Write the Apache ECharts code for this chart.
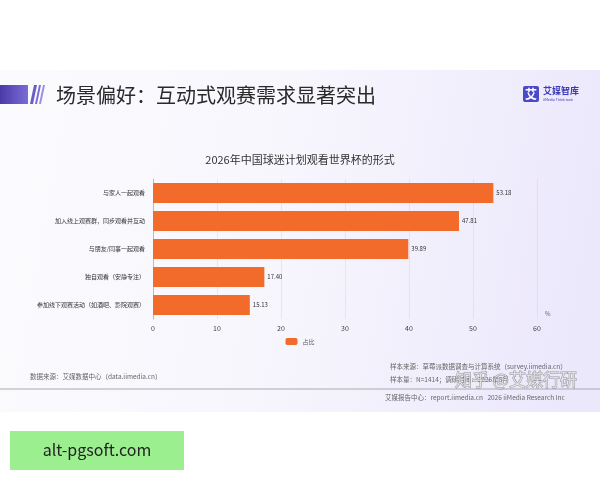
<!DOCTYPE html>
<html>
<head>
<meta charset="utf-8">
<script src="https://cdn.jsdelivr.net/npm/echarts@6/dist/echarts.min.js"></script>
<style>
html,body{margin:0;padding:0;background:#fff;}
#c{width:600px;height:480px;}
</style>
</head>
<body>
<div id="c"></div>
<script>
var categories = ['与家人一起观看', '加入线上观赛群，同步观看并互动', '与朋友/同事一起观看', '独自观看（安静专注）', '参加线下观赛活动（如酒吧、影院观赛）'];
var values = [53.18, 47.81, 39.89, 17.40, 15.13];
var xTicks = [0, 10, 20, 30, 40, 50, 60];
var seriesName = '占比';
var pageTitle = '场景偏好：互动式观赛需求显著突出';
var chartTitle = '2026年中国球迷计划观看世界杯的形式';

var FONT = '"Noto Sans CJK SC","Noto Sans",sans-serif';
var chart = echarts.init(document.getElementById('c'), null, {renderer: 'canvas'});

var option = {
  backgroundColor: '#ffffff',
  animation: false,
  textStyle: {fontFamily: FONT},
  title: {
    text: chartTitle,
    left: 'center',
    top: 149,
    textStyle: {fontSize: 11, fontWeight: 'normal', color: '#333', fontFamily: FONT}
  },
  legend: {
    data: [seriesName],
    top: 333,
    left: 'center',
    itemWidth: 12,
    itemHeight: 7,
    icon: 'roundRect',
    textStyle: {fontSize: 6, color: '#555', fontFamily: FONT}
  },
  grid: {left: 153, right: 63, top: 179, height: 140, containLabel: false},
  xAxis: {
    type: 'value',
    min: 0, max: 60, interval: 10,
    name: '%',
    nameLocation: 'end',
    nameGap: 8,
    nameTextStyle: {fontSize: 6, color: '#666', verticalAlign: 'bottom', padding: [0, 0, 2, 0]},
    axisLine: {show: false},
    axisTick: {show: false},
    axisLabel: {fontSize: 7, color: '#444', margin: 6,
      formatter: function (v) { return xTicks.indexOf(v) >= 0 ? String(v) : ''; }},
    splitLine: {show: true, lineStyle: {color: 'rgba(200,200,215,0.35)', width: 1}}
  },
  yAxis: {
    type: 'category',
    data: categories,
    inverse: true,
    axisLine: {show: true, lineStyle: {color: '#bbb', width: 1}},
    axisTick: {show: false},
    axisLabel: {fontSize: 6, color: '#333', margin: 8}
  },
  series: [{
    name: seriesName,
    type: 'bar',
    data: values,
    barCategoryGap: '28%',
    itemStyle: {color: '#F26B2B'},
    label: {show: true, position: 'right', distance: 3, fontSize: 6, color: '#333',
      formatter: function (p) { return p.value.toFixed(2); }}
  }],
  graphic: [
    // slide background
    {type: 'rect', z: -10, silent: true,
      shape: {x: 0, y: 70, width: 600, height: 342},
      style: {fill: new echarts.graphic.LinearGradient(0, 0, 1, 0.3, [
        {offset: 0, color: '#fbfbfe'}, {offset: 0.5, color: '#f7f6fd'}, {offset: 1, color: '#ece8fc'}])}},
    // header purple bar
    {type: 'rect', z: 5, shape: {x: 0, y: 85, width: 28, height: 19},
      style: {fill: new echarts.graphic.LinearGradient(0, 0, 1, 0, [
        {offset: 0, color: '#4a3aa8'}, {offset: 1, color: '#7a6cd6'}])}},
    {type: 'polygon', z: 5, shape: {points: [[30, 104], [33, 104], [37, 85], [34, 85]]}, style: {fill: '#6a5cc8'}},
    {type: 'polygon', z: 5, shape: {points: [[35, 104], [37, 104], [41, 85], [39, 85]]}, style: {fill: '#7a6cd6'}},
    {type: 'polygon', z: 5, shape: {points: [[39, 104], [41, 104], [45, 85], [43, 85]]}, style: {fill: '#9a90e0'}},
    {type: 'text', z: 5, x: 56, y: 95,
      style: {text: pageTitle, font: '20px ' + FONT, fill: '#2a2a2a', textVerticalAlign: 'middle'}},
    // logo
    {type: 'rect', z: 5, shape: {x: 523, y: 86, width: 16, height: 16, r: 2}, style: {fill: '#4b49c8'}},
    {type: 'text', z: 6, x: 531, y: 94,
      style: {text: '艾', font: 'bold 12px ' + FONT, fill: '#fff', textAlign: 'center', textVerticalAlign: 'middle'}},
    {type: 'text', z: 5, x: 543, y: 91,
      style: {text: '艾媒智库', font: 'bold 9px ' + FONT, fill: '#3d3ab8', textVerticalAlign: 'middle'}},
    {type: 'text', z: 5, x: 543, y: 100,
      style: {text: 'iiMedia Think tank', font: '3.5px ' + FONT, fill: '#3d3ab8', textVerticalAlign: 'middle'}},
    // footer
    {type: 'text', z: 5, x: 30, y: 377,
      style: {text: '数据来源：艾媒数据中心（data.iimedia.cn）', font: '6.5px ' + FONT, fill: '#666', textVerticalAlign: 'middle'}},
    {type: 'text', z: 5, x: 390, y: 367,
      style: {text: '样本来源：草莓派数据调查与计算系统（survey.iimedia.cn）', font: '6.5px ' + FONT, fill: '#666', textVerticalAlign: 'middle'}},
    {type: 'text', z: 5, x: 390, y: 380,
      style: {text: '样本量：N=1414；调研时间：2026年5月', font: '6.5px ' + FONT, fill: '#666', textVerticalAlign: 'middle'}},
    {type: 'line', z: 5, shape: {x1: 0, y1: 389, x2: 600, y2: 389}, style: {stroke: '#aaa', lineWidth: 1}},
    {type: 'text', z: 5, x: 385, y: 398,
      style: {text: '艾媒报告中心：report.iimedia.cn   2026 iiMedia Research Inc', font: '6.5px ' + FONT, fill: '#666', textVerticalAlign: 'middle'}},
    // watermark
    {type: 'text', z: 8, x: 455, y: 380,
      style: {text: '知乎 @艾媒行研', font: '17px ' + FONT, fill: 'rgba(255,255,255,0.6)', stroke: 'rgba(120,120,120,0.7)', lineWidth: 1, textVerticalAlign: 'middle'}},
    // green box
    {type: 'rect', z: 5, shape: {x: 10, y: 431, width: 174, height: 39}, style: {fill: '#9bef8f'}},
    {type: 'text', z: 6, x: 97, y: 450,
      style: {text: 'alt-pgsoft.com', font: '16px ' + FONT, fill: '#222', textAlign: 'center', textVerticalAlign: 'middle'}}
  ]
};
chart.setOption(option);
</script>
</body>
</html>
